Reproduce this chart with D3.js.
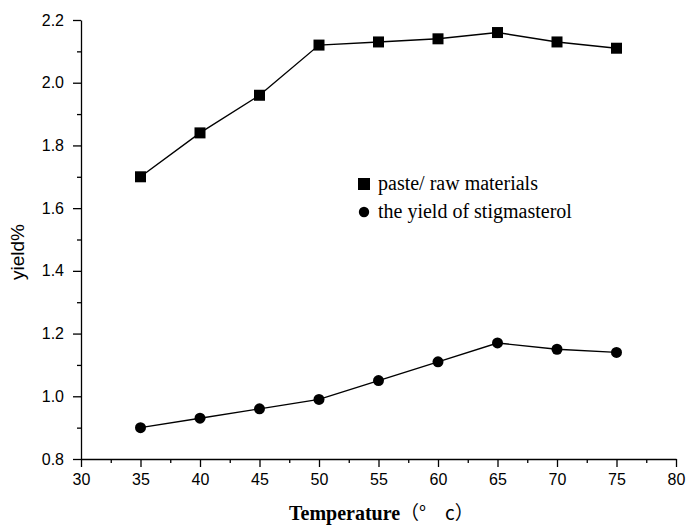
<!DOCTYPE html>
<html>
<head>
<meta charset="utf-8">
<script src="https://cdn.jsdelivr.net/npm/d3@7"></script>
<style>
  body { margin: 0; background: #fff; }
  svg { display: block; }
</style>
</head>
<body>
<div id="chart"></div>
<script>
// Data
const temperatures = [35, 40, 45, 50, 55, 60, 65, 70, 75];
const pasteYield = [1.70, 1.84, 1.96, 2.12, 2.13, 2.14, 2.16, 2.13, 2.11];
const stigmasterolYield = [0.90, 0.93, 0.96, 0.99, 1.05, 1.11, 1.17, 1.15, 1.14];
const xTicks = [30, 35, 40, 45, 50, 55, 60, 65, 70, 75, 80];
const yTicks = [0.8, 1.0, 1.2, 1.4, 1.6, 1.8, 2.0, 2.2];
const seriesNames = ['paste/ raw materials', 'the yield of stigmasterol'];

const W = 686, H = 526;
const margin = { top: 20, right: 10, bottom: 67, left: 81 };
const width = W - margin.left - margin.right;
const height = H - margin.top - margin.bottom;

const svg = d3.select('#chart')
    .append('svg')
    .attr('width', W)
    .attr('height', H);

const g = svg.append('g')
    .attr('transform', `translate(${margin.left},${margin.top})`);

// Scales
const x = d3.scaleLinear().domain([30, 80]).range([0, width]);
const y = d3.scaleLinear().domain([0.8, 2.2]).range([height, 0]);

// Minor ticks
const xMinor = d3.range(32.5, 80, 5);
const yMinor = d3.range(0.9, 2.2, 0.2);

g.append('g')
    .attr('transform', `translate(0,${height})`)
    .call(d3.axisBottom(x).tickValues(xMinor).tickSize(4).tickFormat(''))
    .call(s => s.select('.domain').remove());

g.append('g')
    .call(d3.axisLeft(y).tickValues(yMinor).tickSize(4).tickFormat(''))
    .call(s => s.select('.domain').remove());

// Major axes
g.append('g')
    .attr('class', 'axis')
    .attr('transform', `translate(0,${height})`)
    .call(d3.axisBottom(x).tickValues(xTicks).tickSize(8).tickSizeOuter(0).tickPadding(7).tickFormat(d3.format('d')));

g.append('g')
    .attr('class', 'axis')
    .call(d3.axisLeft(y).tickValues(yTicks).tickSize(8).tickSizeOuter(0).tickPadding(9).tickFormat(d3.format('.1f')));

g.selectAll('.tick line, .domain').attr('stroke', '#000').attr('stroke-width', 1.3);
g.selectAll('.axis text')
    .style('font-family', '"Liberation Sans", Arial, sans-serif')
    .style('font-size', '16px')
    .attr('fill', '#000');

// Lines
const line = d3.line()
    .x((d, i) => x(temperatures[i]))
    .y(d => y(d));

[pasteYield, stigmasterolYield].forEach(series => {
    g.append('path')
        .datum(series)
        .attr('fill', 'none')
        .attr('stroke', '#000')
        .attr('stroke-width', 1.4)
        .attr('d', line);
});

// Markers
const sq = 11;
g.selectAll('.sq')
    .data(pasteYield)
    .enter()
    .append('rect')
    .attr('class', 'sq')
    .attr('x', (d, i) => x(temperatures[i]) - sq / 2)
    .attr('y', d => y(d) - sq / 2)
    .attr('width', sq)
    .attr('height', sq)
    .attr('fill', '#000');

g.selectAll('.dot')
    .data(stigmasterolYield)
    .enter()
    .append('circle')
    .attr('class', 'dot')
    .attr('cx', (d, i) => x(temperatures[i]))
    .attr('cy', d => y(d))
    .attr('r', 5.5)
    .attr('fill', '#000');

// Legend
const legend = svg.append('g').attr('transform', 'translate(364,184)');
legend.append('rect')
    .attr('x', -6).attr('y', -6)
    .attr('width', 12).attr('height', 12)
    .attr('fill', '#000');
legend.append('circle')
    .attr('cx', 0).attr('cy', 28)
    .attr('r', 5.2)
    .attr('fill', '#000');
legend.selectAll('text')
    .data(seriesNames)
    .enter()
    .append('text')
    .attr('x', 14)
    .attr('y', (d, i) => i * 28 + 6)
    .style('font-family', '"Liberation Serif", "Times New Roman", serif')
    .style('font-size', '20px')
    .attr('fill', '#000')
    .text(d => d);

// Axis labels
svg.append('text')
    .attr('transform', 'translate(24,252) rotate(-90)')
    .attr('text-anchor', 'middle')
    .style('font-family', '"Liberation Sans", Arial, sans-serif')
    .style('font-size', '19px')
    .attr('fill', '#000')
    .text('yield%');

const xl = svg.append('text')
    .attr('x', 289)
    .attr('y', 520)
    .attr('fill', '#000');
xl.append('tspan')
    .style('font-family', '"Liberation Serif", "Times New Roman", serif')
    .style('font-weight', 'bold')
    .style('font-size', '20px')
    .text('Temperature');
xl.append('tspan')
    .style('font-family', '"Noto Sans CJK SC", sans-serif')
    .style('font-size', '19px')
    .text('（°\u3000c）');
</script>
</body>
</html>
